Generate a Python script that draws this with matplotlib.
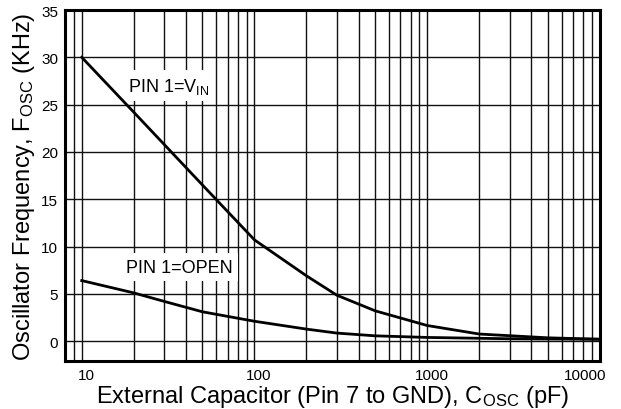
import numpy as np
import matplotlib
matplotlib.use("Agg")
import matplotlib.pyplot as plt
from matplotlib.ticker import FixedLocator, NullFormatter
import matplotlib.transforms as mtrans

plt.rcParams['font.family'] = ['Liberation Sans', 'DejaVu Sans']
plt.rcParams['mathtext.fontset'] = 'custom'
plt.rcParams['mathtext.rm'] = 'Liberation Sans'

# curva PIN 1 = VIN
cap_vin = [10, 20, 50, 100, 200, 300, 500, 1000, 2000, 5000, 10000]
f_vin = [30.0, 24.2, 16.5, 10.7, 6.9, 4.85, 3.2, 1.65, 0.75, 0.35, 0.2]

# curva PIN 1 = OPEN
cap_open = [10, 20, 30, 50, 100, 200, 300, 500, 1000, 3000, 10000]
f_open = [6.4, 5.1, 4.2, 3.1, 2.1, 1.27, 0.85, 0.56, 0.39, 0.25, 0.2]

x_ticks = [10, 100, 1000, 10000]
x_tick_labels = ['10', '100', '1000', '10000']
y_ticks = [0, 5, 10, 15, 20, 25, 30, 35]

fig = plt.figure(figsize=(6.21, 4.10), dpi=100)
ax = fig.add_axes([65/621, 48/410, 535/621, 351/410])

ax.set_xscale('log')
ax.set_xlim(8, 10000)
ax.set_ylim(-2.1, 35)

# rejilla
minor = [m * 10**e for e in range(0, 4) for m in range(2, 10)]
minor = [v for v in minor if 8 <= v < 10000]
ax.xaxis.set_major_locator(FixedLocator(x_ticks))
ax.xaxis.set_minor_locator(FixedLocator(minor))
ax.xaxis.set_minor_formatter(NullFormatter())
ax.set_xticklabels(x_tick_labels)
ax.set_yticks(y_ticks)
ax.grid(True, which='both', axis='x', color='#111111', lw=1.0)
ax.grid(True, which='major', axis='y', color='#111111', lw=1.0)
ax.tick_params(which='both', length=0, labelsize=11, pad=5)
for s in ax.spines.values():
    s.set_linewidth(2.2)

# desplazar etiquetas x como en el original
for lab, dx in zip(ax.get_xticklabels(), [5, 4, 5, -15]):
    lab.set_transform(lab.get_transform() + mtrans.ScaledTranslation(dx/100, 0, fig.dpi_scale_trans))

# curvas encima de las cajas de texto
ax.plot(cap_vin, f_vin, color='black', lw=2.0, solid_joinstyle='round', zorder=5)
ax.plot(cap_open, f_open, color='black', lw=2.0, solid_joinstyle='round', zorder=5)

box = dict(facecolor='white', edgecolor='none', pad=4)
ax.text(31.8, 27.0, r'PIN 1=V$\mathregular{_{IN}}$', fontsize=13, ha='center', va='center', bbox=box, zorder=3)
ax.text(36.8, 7.8, 'PIN 1=OPEN', fontsize=13, ha='center', va='center', bbox=box, zorder=3)

ax.set_xlabel(r'External Capacitor (Pin 7 to GND), C$\mathregular{_{OSC}}$ (pF)', fontsize=17, labelpad=1)
ax.set_ylabel(r'Oscillator Frequency, F$\mathregular{_{OSC}}$ (KHz)', fontsize=17, labelpad=3)

fig.savefig('out.png', dpi=100)
